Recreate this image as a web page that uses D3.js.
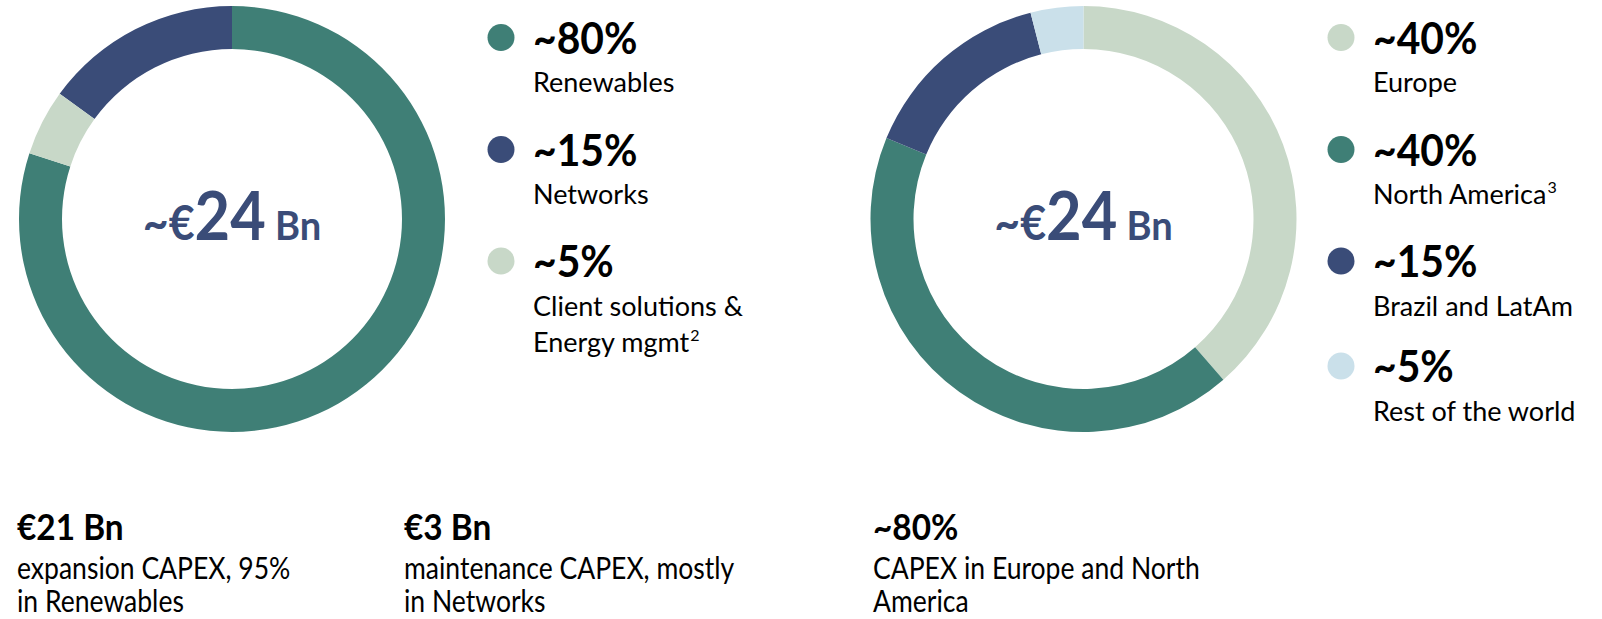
<!DOCTYPE html>
<html>
<head>
<meta charset="utf-8">
<script src="https://cdn.jsdelivr.net/npm/d3@7"></script>
<style>
  html, body { margin: 0; padding: 0; background: #fff; }
  svg { display: block; }
  text { font-family: Lato, "Open Sans", "Noto Sans", sans-serif; }
</style>
</head>
<body>
<svg id="chart" width="1602" height="619"></svg>
<script>
// ---------- DATA ----------
const leftCategories = ["Renewables", "Networks", "Client solutions"];
const leftValues = [80, 15, 5];
const leftValueLabels = ["~80%", "~15%", "~5%"];
const leftLabelLines = [["Renewables"], ["Networks"], ["Client solutions &", "Energy mgmt^2"]];
const leftSliceOrder = ["Renewables", "Client solutions", "Networks"];

const rightCategories = ["Europe", "North America", "Brazil and LatAm", "Rest of the world"];
const rightValues = [38.6, 42.6, 14.8, 4.0];
const rightValueLabels = ["~40%", "~40%", "~15%", "~5%"];
const rightLabelLines = [["Europe"], ["North America^3"], ["Brazil and LatAm"], ["Rest of the world"]];

const centerParts = ["~\u20AC", "24", " Bn"];

const footHeads = ["\u20AC21 Bn", "\u20AC3 Bn", "~80%"];
const footLines = [
  ["expansion CAPEX, 95%", "in Renewables"],
  ["maintenance CAPEX, mostly", "in Networks"],
  ["CAPEX in Europe and North", "America"]
];

// ---------- STYLE ----------
const TEAL = "#3F7F76", NAVY = "#3A4C78", PALE_GREEN = "#C8D8C8", PALE_BLUE = "#CAE0EA";
const leftColor = d3.scaleOrdinal().domain(leftCategories).range([TEAL, NAVY, PALE_GREEN]);
const rightColor = d3.scaleOrdinal().domain(rightCategories).range([PALE_GREEN, TEAL, NAVY, PALE_BLUE]);

const svg = d3.select("#chart");

function donut(cx, cy, cats, vals, color, order) {
  const data = cats.map((c, i) => ({ cat: c, value: vals[i] }));
  const pie = d3.pie().value(d => d.value)
    .sort(order ? (a, b) => order.indexOf(a.cat) - order.indexOf(b.cat) : null);
  const arc = d3.arc().innerRadius(170).outerRadius(213);
  const g = svg.append("g").attr("transform", `translate(${cx},${cy})`);
  g.selectAll("path").data(pie(data)).join("path")
    .attr("d", arc).attr("fill", d => color(d.data.cat));
  const tg = g.append("g").attr("transform", "translate(0,21) scale(0.93,1)");
  const t = tg.append("text").attr("text-anchor", "middle")
    .attr("fill", NAVY).attr("font-weight", 700);
  const sizes = [48, 66, 41];
  centerParts.forEach((p, i) => {
    t.append("tspan").attr("font-size", sizes[i])
      .attr("xml:space", "preserve").text(p);
  });
}

function writeLabel(sel, ln) {
  const parts = ln.split("^");
  sel.append("tspan").text(parts[0]);
  if (parts[1]) {
    sel.append("tspan").attr("font-size", 16).attr("dy", -11).attr("dx", 1).text(parts[1]);
  }
}

function legend(x, baselines, cats, valueLabels, labelLines, color) {
  const g = svg.append("g");
  cats.forEach((c, i) => {
    const b = baselines[i];
    g.append("circle").attr("cx", x - 32).attr("cy", b - 16).attr("r", 13.5).attr("fill", color(c));
    g.append("text").attr("transform", `translate(${x},${b}) scale(0.95,1)`)
      .attr("font-size", 43).attr("font-weight", 700)
      .attr("fill", "#000").text(valueLabels[i]);
    labelLines[i].forEach((ln, j) => {
      const t = g.append("text").attr("x", x).attr("y", b + 38.5 + j * 36.5).attr("font-size", 27)
        .attr("fill", "#000");
      writeLabel(t, ln);
    });
  });
}

donut(232, 219, leftCategories, leftValues, leftColor, leftSliceOrder);
donut(1083.5, 219, rightCategories, rightValues, rightColor, null);

legend(533, [53.5, 165.5, 277], leftCategories, leftValueLabels, leftLabelLines, leftColor);
legend(1373, [53.5, 165.5, 277, 382], rightCategories, rightValueLabels, rightLabelLines, rightColor);

// ---------- FOOTNOTES ----------
const footX = [17, 404, 873];
footHeads.forEach((h, i) => {
  svg.append("text").attr("transform", `translate(${footX[i]},540) scale(0.94,1)`)
    .attr("font-size", 35.5).attr("font-weight", 700)
    .attr("fill", "#000").text(h);
  footLines[i].forEach((ln, j) => {
    svg.append("text").attr("transform", `translate(${footX[i]},${579 + j * 33}) scale(0.87,1)`)
      .attr("font-size", 30.5).attr("fill", "#000").text(ln);
  });
});
</script>
</body>
</html>
